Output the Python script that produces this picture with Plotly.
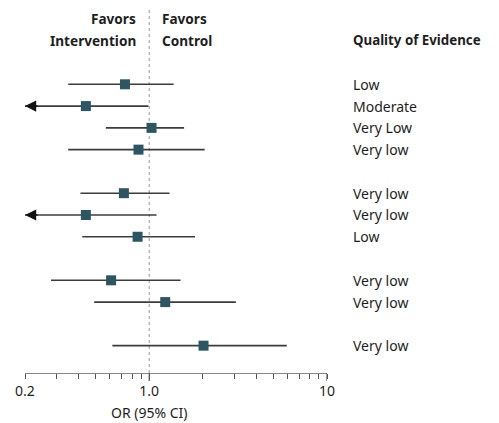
import math
import plotly.graph_objects as go

# ---- data ----
quality = ["Low", "Moderate", "Very Low", "Very low", "Very low", "Very low", "Low",
           "Very low", "Very low", "Very low"]
group = [1, 1, 1, 1, 2, 2, 2, 3, 3, 4]
or_vals = [0.73, 0.44, 1.03, 0.87, 0.72, 0.44, 0.86, 0.61, 1.23, 2.02]
ci_low = [0.35, 0.15, 0.57, 0.35, 0.41, 0.15, 0.42, 0.28, 0.49, 0.62]
ci_high = [1.37, 0.99, 1.57, 2.05, 1.30, 1.10, 1.81, 1.50, 3.07, 5.94]
tick_vals = [0.2, 0.3, 0.4, 0.5, 0.6, 0.7, 0.8, 0.9, 1.0, 2, 3, 4, 5, 6, 7, 8, 9, 10]
tick_text = ["0.2", "", "", "", "", "", "", "", "1.0", "", "", "", "", "", "", "", "", "10"]

XMIN, XMAX = 0.2, 10
FONT = "Noto Sans"
TXT = "#1e1e1e"
LINE = "#3c3c3c"
MARK = "#2d5562"

# row positions: one blank row between groups
pos = []
p = 0
prev = group[0]
for g in group:
    if g != prev:
        p += 1
        prev = g
    pos.append(p)
    p += 1

fig = go.Figure()

# CI lines
xs, ys = [], []
for lo, hi, y in zip(ci_low, ci_high, pos):
    xs += [max(lo, XMIN), hi, None]
    ys += [y, y, None]
fig.add_trace(go.Scatter(x=xs, y=ys, mode="lines", line=dict(color=LINE, width=1.6),
                         hoverinfo="skip", showlegend=False, cliponaxis=False))

# point estimates
fig.add_trace(go.Scatter(x=or_vals, y=pos, mode="markers",
                         marker=dict(symbol="square", size=10, color=MARK),
                         showlegend=False, cliponaxis=False))

ann = []
# arrows for truncated CIs
for lo, y in zip(ci_low, pos):
    if lo < XMIN:
        ann.append(dict(x=math.log10(XMIN), y=y, ax=math.log10(0.24), ay=y,
                        xref="x", yref="y", axref="x", ayref="y", text="",
                        showarrow=True, arrowhead=2, arrowsize=1.4, arrowwidth=1.6,
                        arrowcolor="#111111", standoff=0))

# quality labels
for q, y in zip(quality, pos):
    ann.append(dict(x=1.08, y=y, xref="paper", yref="y", text=q, showarrow=False,
                    xanchor="left", yanchor="middle", font=dict(family=FONT, size=14, color=TXT)))

ann.append(dict(x=1.08, y=-2.03, xref="paper", yref="y", text="<b>Quality of Evidence</b>",
                showarrow=False, xanchor="left", yanchor="middle",
                font=dict(family=FONT, size=13.3, color=TXT)))
for txt, yy in [("<b>Favors</b>", -3.0), ("<b>Intervention</b>", -2.03)]:
    ann.append(dict(x=0, y=yy, xref="x", yref="y", text=txt, showarrow=False,
                    xanchor="right", yanchor="middle", xshift=-11,
                    font=dict(family=FONT, size=13.6, color=TXT)))
for txt, yy in [("<b>Favors</b>", -3.0), ("<b>Control</b>", -2.03)]:
    ann.append(dict(x=0, y=yy, xref="x", yref="y", text=txt, showarrow=False,
                    xanchor="left", yanchor="middle", xshift=11,
                    font=dict(family=FONT, size=13.6, color=TXT)))
ann.append(dict(x=0, y=0, xref="x", yref="paper", text="OR (95% CI)", showarrow=False,
                xanchor="center", yanchor="middle", yshift=-39,
                font=dict(family=FONT, size=14, color=TXT)))

shapes = [dict(type="line", xref="x", yref="paper", x0=1, x1=1, y0=0, y1=1,
               line=dict(color="#aaaaaa", width=1.2, dash="dot"), layer="below")]
for v in [1.0, 10]:
    shapes.append(dict(type="line", xref="x", yref="paper", x0=v, x1=v,
                       y0=0, y1=-8 / 365, line=dict(color="#555555", width=1.2)))

fig.update_layout(
    width=499, height=423,
    margin=dict(l=25, r=172, t=8, b=50, autoexpand=False),
    paper_bgcolor="white", plot_bgcolor="white",
    annotations=ann, shapes=shapes,
    xaxis=dict(type="log", range=[math.log10(XMIN), math.log10(XMAX)],
               tickvals=tick_vals, ticktext=tick_text, ticks="outside", ticklen=5,
               tickcolor="#555555", tickwidth=1.2, showline=True, linecolor="#888888",
               linewidth=1.2, showgrid=False, zeroline=False, automargin=False,
               tickfont=dict(family=FONT, size=14, color=TXT)),
    yaxis=dict(range=[13.255, -3.503], visible=False, showgrid=False, zeroline=False),
    showlegend=False,
)

fig.write_html("out.html", config={"displayModeBar": False},
               post_script="document.body.style.margin='0px';document.body.style.padding='0px';")
